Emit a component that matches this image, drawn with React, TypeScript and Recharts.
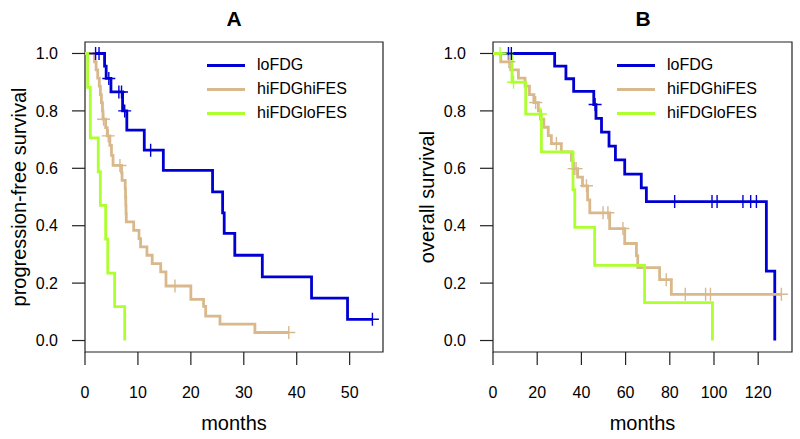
import { ComposedChart, Line, XAxis, YAxis, ReferenceArea, Legend } from "recharts";

const FONT = '"Liberation Sans", Arial, Helvetica, sans-serif';

const SURV_TICKS = [0, 0.2, 0.4, 0.6, 0.8, 1.0];
const PFS_TICKS = [0, 10, 20, 30, 40, 50];
const OS_TICKS = [0, 20, 40, 60, 80, 100, 120];

const GROUPS = ["loFDG", "hiFDGhiFES", "hiFDGloFES"];
const GROUP_COLORS = ["#0000d2", "#d9b98c", "#adff2f"];

// panel A, progression-free survival (months)
const PFS_LO_T = [0, 3.7, 4.0, 4.9, 7.1, 7.9, 11.2, 14.8, 24.1, 26.0, 26.3, 28.3, 33.5, 42.8, 49.6, 54.3];
const PFS_LO_S = [1, 0.956, 0.913, 0.866, 0.8, 0.733, 0.663, 0.593, 0.518, 0.445, 0.373, 0.297, 0.222, 0.148, 0.074, 0.074];
const PFS_LO_CT = [2.0, 2.65, 4.5, 6.4, 6.9, 7.5, 12.4, 54.3];
const PFS_LO_CS = [1, 1, 0.913, 0.866, 0.866, 0.8, 0.663, 0.074];

const PFS_HI_T = [0, 1.8, 2.1, 2.4, 2.7, 2.9, 3.1, 3.3, 3.4, 3.9, 4.2, 4.7, 5.0, 5.3, 6.9, 7.0, 7.6, 7.65, 7.7, 7.75, 7.8, 9.2, 10.2, 10.5, 11.7, 12.7, 14.3, 15.3, 20.0, 22.4, 22.8, 25.5, 32.1, 38.5];
const PFS_HI_S = [1, 0.971, 0.943, 0.914, 0.886, 0.857, 0.829, 0.8, 0.771, 0.742, 0.713, 0.68, 0.645, 0.61, 0.585, 0.558, 0.529, 0.5, 0.471, 0.442, 0.413, 0.384, 0.355, 0.326, 0.297, 0.268, 0.239, 0.19, 0.143, 0.119, 0.085, 0.057, 0.028, 0.028];
const PFS_HI_CT = [3.5, 4.4, 6.6, 17.0, 38.5];
const PFS_HI_CS = [0.771, 0.713, 0.61, 0.19, 0.028];

const PFS_GL_T = [0, 0.5, 1.0, 2.5, 2.9, 3.9, 4.3, 5.6, 7.5];
const PFS_GL_S = [1, 0.882, 0.706, 0.588, 0.471, 0.353, 0.235, 0.118, 0];
const PFS_GL_CT: number[] = [];
const PFS_GL_CS: number[] = [];

// panel B, overall survival (months)
const OS_LO_T = [0, 27.9, 33.0, 36.5, 45.6, 46.6, 49.1, 52.5, 55.4, 59.6, 67.1, 69.4, 123.7, 127.5];
const OS_LO_S = [1, 0.956, 0.912, 0.868, 0.822, 0.774, 0.726, 0.677, 0.629, 0.58, 0.532, 0.484, 0.242, 0];
const OS_LO_CT = [7.0, 8.3, 46.2, 82.2, 99.1, 101.4, 113.1, 116.6, 119.2];
const OS_LO_CS = [1, 1, 0.822, 0.484, 0.484, 0.484, 0.484, 0.484, 0.484];

const OS_HI_T = [0, 3.5, 8.0, 11.5, 14.5, 16.5, 18.5, 20.5, 21.5, 23.0, 25.0, 26.4, 30.9, 35.5, 36.2, 38.3, 40.5, 42.8, 43.8, 52.8, 59.6, 64.9, 65.5, 75.4, 80.7, 130.5];
const OS_HI_S = [1, 0.971, 0.943, 0.914, 0.886, 0.857, 0.829, 0.8, 0.771, 0.743, 0.714, 0.686, 0.657, 0.628, 0.599, 0.569, 0.539, 0.49, 0.445, 0.39, 0.338, 0.296, 0.254, 0.212, 0.161, 0.161];
const OS_HI_CT = [7.2, 19.3, 28.7, 36.7, 37.6, 42.3, 49.8, 52.0, 58.8, 78.4, 87.0, 96.2, 98.4, 130.5];
const OS_HI_CS = [0.971, 0.829, 0.686, 0.599, 0.599, 0.539, 0.445, 0.445, 0.39, 0.212, 0.161, 0.161, 0.161, 0.161];

const OS_GL_T = [0, 8.6, 14.8, 21.9, 36.2, 37.0, 46.0, 68.6, 99.3];
const OS_GL_S = [1, 0.9, 0.789, 0.657, 0.526, 0.394, 0.262, 0.132, 0];
const OS_GL_CT = [3.2, 9.3, 21.5];
const OS_GL_CS = [1, 0.9, 0.789];

type Pt = { t: number; s: number };
const pts = (t: number[], s: number[]): Pt[] => t.map((x, i) => ({ t: x, s: s[i] }));

interface Curve {
  steps: Pt[];
  cens: Pt[];
}

const plusDot = (color: string) => (p: any) => {
  const { cx, cy, index } = p;
  if (cx == null || cy == null) return <g key={`n-${index}`} />;
  const a = 6.5;
  return (
    <path
      key={`c-${index}`}
      d={`M${cx - a},${cy}H${cx + a}M${cx},${cy - a}V${cy + a}`}
      stroke={color}
      strokeWidth={1.4}
      fill="none"
    />
  );
};

// only the three survival curves go in the legend, in group order
const renderLegend = (props: any) => {
  const items = (props.payload || [])
    .filter((e: any) => GROUPS.includes(e.value))
    .sort((a: any, b: any) => GROUPS.indexOf(a.value) - GROUPS.indexOf(b.value));
  return (
    <div style={{ fontFamily: FONT, fontSize: 16, color: "#000" }}>
      {items.map((e: any) => (
        <div key={e.value} style={{ display: "flex", alignItems: "center", height: 24 }}>
          <span
            style={{
              display: "inline-block",
              width: 38,
              height: 0,
              borderTop: `3px solid ${e.color}`,
              marginRight: 12,
            }}
          />
          <span>{e.value}</span>
        </div>
      ))}
    </div>
  );
};

function Panel({
  curves,
  xMax,
  xTicks,
  yLabel,
  yWidth,
  right,
  labelOffset,
  legendLeft,
}: {
  curves: Curve[];
  xMax: number;
  xTicks: number[];
  yLabel: string;
  yWidth: number;
  right: number;
  labelOffset: number;
  legendLeft: number;
}) {
  return (
    <ComposedChart width={400} height={439} margin={{ top: 42, right, bottom: 0, left: 0 }}>
      <XAxis
        type="number"
        dataKey="t"
        domain={[0, xMax]}
        ticks={xTicks}
        interval={0}
        allowDataOverflow
        axisLine={false}
        tickSize={13}
        tickMargin={22}
        height={87}
        tick={{ fill: "#000", fontSize: 16, fontFamily: FONT }}
        tickLine={{ stroke: "#222", strokeWidth: 1.2 }}
        label={{ value: "months", position: "insideBottom", offset: 9, fill: "#000", fontSize: 20, fontFamily: FONT }}
      />
      <YAxis
        type="number"
        dataKey="s"
        domain={[-0.04, 1.04]}
        ticks={SURV_TICKS}
        interval={0}
        allowDataOverflow
        axisLine={false}
        width={yWidth}
        tickSize={13}
        tickMargin={14}
        tickFormatter={(v: number) => v.toFixed(1)}
        tick={{ fill: "#000", fontSize: 16, fontFamily: FONT }}
        tickLine={{ stroke: "#222", strokeWidth: 1.2 }}
        label={{
          value: yLabel,
          angle: -90,
          position: "insideLeft",
          offset: labelOffset,
          fill: "#000",
          fontSize: 20,
          fontFamily: FONT,
          style: { textAnchor: "middle" },
        }}
      />
      <ReferenceArea
        x1={0}
        x2={xMax}
        y1={-0.04}
        y2={1.04}
        fill="none"
        stroke="#222"
        strokeWidth={1.2}
        ifOverflow="visible"
      />
      {curves.map((c, i) => (
        <Line
          key={`l-${i}`}
          name={GROUPS[i]}
          data={c.steps}
          dataKey="s"
          type="stepAfter"
          stroke={GROUP_COLORS[i]}
          strokeWidth={2.8}
          dot={false}
          activeDot={false}
          isAnimationActive={false}
        />
      ))}
      {curves.map((c, i) => (
        <Line
          key={`c-${i}`}
          name={`${GROUPS[i]} censored`}
          data={c.cens}
          dataKey="s"
          stroke="none"
          strokeWidth={0}
          legendType="none"
          dot={plusDot(GROUP_COLORS[i])}
          activeDot={false}
          isAnimationActive={false}
        />
      ))}
      <Legend
        layout="vertical"
        align="center"
        verticalAlign="middle"
        content={renderLegend}
        wrapperStyle={{ left: legendLeft, top: 53, width: 170, height: 72 }}
      />
    </ComposedChart>
  );
}

export default function App() {
  const pfs: Curve[] = [
    { steps: pts(PFS_LO_T, PFS_LO_S), cens: pts(PFS_LO_CT, PFS_LO_CS) },
    { steps: pts(PFS_HI_T, PFS_HI_S), cens: pts(PFS_HI_CT, PFS_HI_CS) },
    { steps: pts(PFS_GL_T, PFS_GL_S), cens: pts(PFS_GL_CT, PFS_GL_CS) },
  ];
  const os: Curve[] = [
    { steps: pts(OS_LO_T, OS_LO_S), cens: pts(OS_LO_CT, OS_LO_CS) },
    { steps: pts(OS_HI_T, OS_HI_S), cens: pts(OS_HI_CT, OS_HI_CS) },
    { steps: pts(OS_GL_T, OS_GL_S), cens: pts(OS_GL_CT, OS_GL_CS) },
  ];
  const titleStyle = {
    position: "absolute" as const,
    top: 8,
    width: 100,
    textAlign: "center" as const,
    fontFamily: FONT,
    fontWeight: 700,
    fontSize: 21,
    lineHeight: "21px",
    color: "#000",
  };
  return (
    <div
      style={{
        position: "absolute",
        left: 0,
        top: 0,
        width: 800,
        height: 439,
        background: "#fff",
        overflow: "hidden",
      }}
    >
      <div style={{ ...titleStyle, left: 184 }}>A</div>
      <div style={{ ...titleStyle, left: 593 }}>B</div>
      <div style={{ position: "absolute", left: 0, top: 0 }}>
        <Panel
          curves={pfs}
          xMax={56.3}
          xTicks={PFS_TICKS}
          yLabel="progression-free survival"
          yWidth={85}
          right={17}
          labelOffset={19}
          legendLeft={207}
        />
      </div>
      <div style={{ position: "absolute", left: 400, top: 0 }}>
        <Panel
          curves={os}
          xMax={135.3}
          xTicks={OS_TICKS}
          yLabel="overall survival"
          yWidth={93}
          right={8}
          labelOffset={27}
          legendLeft={217}
        />
      </div>
    </div>
  );
}
